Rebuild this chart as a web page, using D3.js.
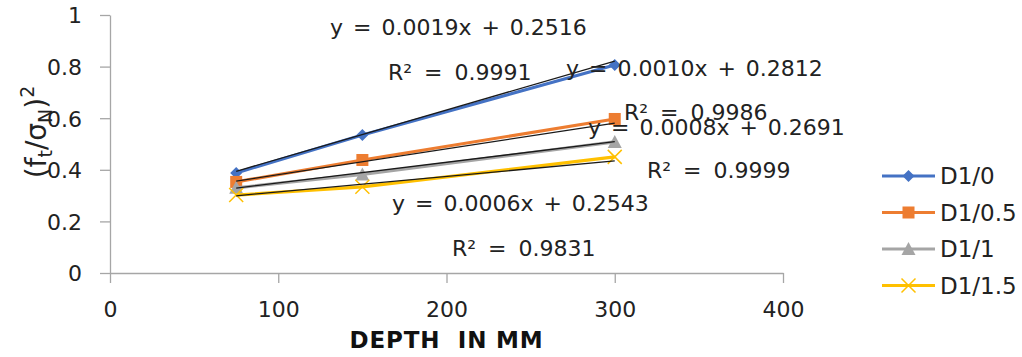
<!DOCTYPE html>
<html>
<head>
<meta charset="utf-8">
<script src="https://cdn.jsdelivr.net/npm/d3@7"></script>
<style>
  body { margin: 0; background: #fff; }
  svg { font-family: "DejaVu Sans", sans-serif; }
</style>
</head>
<body>
<div id="chart"></div>
<script>
// data
const depths = [75, 150, 300];
const seriesNames = ['D1/0', 'D1/0.5', 'D1/1', 'D1/1.5'];
const d10 = [0.388, 0.535, 0.806];
const d105 = [0.353, 0.438, 0.597];
const d11 = [0.330, 0.382, 0.508];
const d115 = [0.302, 0.334, 0.450];
const slopes = [0.0019, 0.0010, 0.0008, 0.0006];
const intercepts = [0.2516, 0.2812, 0.2691, 0.2543];
const rSquared = ['0.9991', '0.9986', '0.9999', '0.9831'];
const xTicks = [0, 100, 200, 300, 400];
const yTicks = [0, 0.2, 0.4, 0.6, 0.8, 1];

const colors = ['#4472C4', '#ED7D31', '#A5A5A5', '#FFC000'];
const markers = ['diamond', 'square', 'triangle', 'cross'];
const values = [d10, d105, d11, d115];

const W = 1022, H = 357;
const margin = {top: 15, right: 239, bottom: 84, left: 110};
const width = W - margin.left - margin.right;
const height = H - margin.top - margin.bottom;

const svg = d3.select('#chart').append('svg')
  .attr('width', W).attr('height', H);

const g = svg.append('g')
  .attr('transform', `translate(${margin.left},${margin.top})`);

const x = d3.scaleLinear().domain([0, 400]).range([0, width]);
const y = d3.scaleLinear().domain([0, 1]).range([height, 0]);

// axes
const xAxis = g.append('g')
  .attr('transform', `translate(0,${height})`)
  .call(d3.axisBottom(x).tickValues(xTicks).tickSize(10).tickSizeOuter(0).tickPadding(14));
const yAxis = g.append('g')
  .call(d3.axisLeft(y).tickValues(yTicks).tickSize(10).tickSizeOuter(0).tickPadding(18)
    .tickFormat(d3.format('~g')));
[xAxis, yAxis].forEach(a => {
  a.select('.domain').attr('stroke', '#a6a6a6').attr('stroke-width', 1.3);
  a.selectAll('.tick line').attr('stroke', '#a6a6a6').attr('stroke-width', 1.3);
  a.selectAll('.tick text')
    .attr('fill', '#222').attr('font-size', 22)
    .attr('font-family', '"DejaVu Sans", sans-serif');
});
yAxis.selectAll('.tick text').attr('dy', '0.36em');
xAxis.selectAll('.tick text').attr('dy', '0.9em');

const line = d3.line().x(d => x(d[0])).y(d => y(d[1]));

function drawMarker(sel, type, color, cx, cy) {
  if (type === 'diamond') {
    sel.append('path')
      .attr('d', `M${cx},${cy - 6}L${cx + 6},${cy}L${cx},${cy + 6}L${cx - 6},${cy}Z`)
      .attr('fill', color);
  } else if (type === 'square') {
    sel.append('rect')
      .attr('x', cx - 6).attr('y', cy - 6).attr('width', 12).attr('height', 12)
      .attr('fill', color);
  } else if (type === 'triangle') {
    sel.append('path')
      .attr('d', `M${cx},${cy - 7}L${cx + 7},${cy + 6}L${cx - 7},${cy + 6}Z`)
      .attr('fill', color);
  } else {
    sel.append('path')
      .attr('d', `M${cx - 7},${cy - 7}L${cx + 7},${cy + 7}M${cx - 7},${cy + 7}L${cx + 7},${cy - 7}`)
      .attr('stroke', color).attr('stroke-width', 1.5).attr('fill', 'none');
  }
}

// series lines
values.forEach((vals, i) => {
  const pts = depths.map((d, k) => [d, vals[k]]);
  g.append('path').datum(pts)
    .attr('d', line)
    .attr('fill', 'none')
    .attr('stroke', colors[i])
    .attr('stroke-width', 3.2);
  const mg = g.append('g');
  pts.forEach(p => drawMarker(mg, markers[i], colors[i], x(p[0]), y(p[1])));
});

// linear trendlines
slopes.forEach((m, i) => {
  const ext = d3.extent(depths);
  const pts = ext.map(d => [d, m * d + intercepts[i]]);
  g.append('path').datum(pts)
    .attr('d', line)
    .attr('fill', 'none')
    .attr('stroke', '#1a1a1a')
    .attr('stroke-width', 1.3);
});

// trendline equation labels (placed as in the original)
const eqPos = [[330, 35, 388, 80], [566, 76, 624, 120], [588, 135, 647, 178], [392, 211, 452, 256]];
slopes.forEach((m, i) => {
  const p = eqPos[i];
  svg.append('text')
    .attr('x', p[0]).attr('y', p[1])
    .attr('font-size', 22).attr('fill', '#222')
    .attr('word-spacing', 3)
    .text(`y = ${m.toFixed(4)}x + ${intercepts[i].toFixed(4)}`);
  svg.append('text')
    .attr('x', p[2]).attr('y', p[3])
    .attr('font-size', 22).attr('fill', '#222')
    .attr('word-spacing', 5)
    .text(`R² = ${rSquared[i]}`);
});

// axis titles
svg.append('text')
  .attr('x', margin.left + x(200)).attr('y', 348)
  .attr('text-anchor', 'middle')
  .attr('font-size', 23).attr('font-weight', 'bold').attr('fill', '#111')
  .attr('letter-spacing', 0.8)
  .attr('xml:space', 'preserve')
  .text('DEPTH  IN MM');

const yt = svg.append('text')
  .attr('transform', 'translate(46,132) rotate(-90)')
  .attr('text-anchor', 'middle')
  .attr('font-size', 28).attr('fill', '#222');
yt.append('tspan').text('(f');
yt.append('tspan').attr('font-size', 19).attr('dy', 6).text('t');
yt.append('tspan').attr('dy', -6).text('/σ');
yt.append('tspan').attr('font-size', 19).attr('dy', 6).text('N');
yt.append('tspan').attr('dy', -6).text(')');
yt.append('tspan').attr('font-size', 19).attr('dy', -12).text('2');

// legend
const legend = svg.append('g').attr('transform', 'translate(882,176)');
seriesNames.forEach((name, i) => {
  const row = legend.append('g').attr('transform', `translate(0,${i * 36.5})`);
  row.append('line')
    .attr('x1', 0).attr('x2', 53).attr('y1', 0).attr('y2', 0)
    .attr('stroke', colors[i]).attr('stroke-width', 3.2);
  drawMarker(row, markers[i], colors[i], 26.5, 0);
  row.append('text')
    .attr('x', 58).attr('y', 0).attr('dy', '0.36em')
    .attr('font-size', 23).attr('fill', '#222')
    .text(name);
});
</script>
</body>
</html>
